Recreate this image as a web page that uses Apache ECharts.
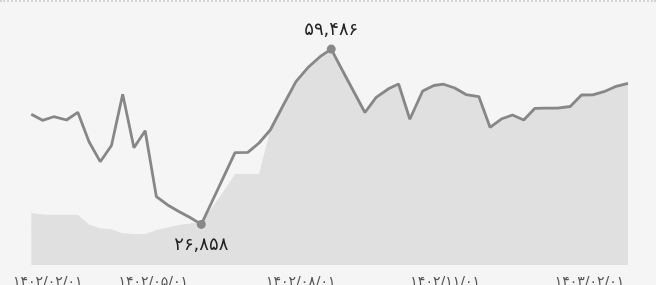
<!DOCTYPE html>
<html>
<head>
<meta charset="utf-8">
<script src="https://cdn.jsdelivr.net/npm/echarts@6/dist/echarts.min.js"></script>
<style>
  body { margin: 0; background: #f5f5f5; }
  #wrap { position: relative; width: 656px; height: 285px; overflow: hidden; }
  #dots { position: absolute; left: 0; top: 0; width: 656px; border-top: 2px dotted #d4d4d4; }
  #chart { width: 656px; height: 285px; }
</style>
</head>
<body>
<div id="wrap">
  <div id="chart"></div>
  <div id="dots"></div>
</div>
<script>
// تاریخ هر نقطه (شمسی)
var dates = [
  '1402/02/18', '1402/02/25', '1402/03/01', '1402/03/09', '1402/03/16', '1402/03/23', '1402/03/30',
  '1402/04/06', '1402/04/13', '1402/04/20', '1402/04/27', '1402/05/03', '1402/05/10', '1402/05/17',
  '1402/05/24', '1402/05/31', '1402/06/07', '1402/06/14', '1402/06/21', '1402/06/29', '1402/07/05',
  '1402/07/12', '1402/07/20', '1402/07/28', '1402/08/06', '1402/08/13', '1402/08/20', '1402/08/27',
  '1402/09/04', '1402/09/11', '1402/09/18', '1402/09/26', '1402/10/02', '1402/10/09', '1402/10/17',
  '1402/10/24', '1402/10/30', '1402/11/07', '1402/11/14', '1402/11/22', '1402/11/29', '1402/12/06',
  '1402/12/13', '1402/12/20', '1402/12/27', '1403/01/05', '1403/01/12', '1403/01/20', '1403/01/27',
  '1403/02/03', '1403/02/10', '1403/02/17', '1403/02/25'
];

// قیمت
var prices = [
  47350, 46230, 46900, 46290, 47720, 42250, 38530,
  41540, 51070, 41130, 44300, 32010, 30470, 29260,
  28140, 26858, 31300, 35750, 40200, 40250, 42010,
  44430, 48990, 53420, 56210, 58070, 59486, 55500,
  51590, 47680, 50510, 52150, 52990, 46420, 51690,
  52710, 52950, 52240, 51030, 50660, 44930, 46470,
  47220, 46290, 48470, 48480, 48490, 48800, 50940,
  50950, 51560, 52490, 53120
];

// سری زیرین (ناحیه خاکستری)
var baseValues = [
  29030, 28700, 28660, 28660, 28660, 26840, 26130,
  25940, 25200, 25070, 25080, 25810, 26280, 26750,
  27020, 27360, 30100, 33070, 36240, 36250, 36260,
  44430, 48990, 53420, 56210, 58070, 59486, 55500,
  51590, 47680, 50510, 52150, 52990, 46420, 51690,
  52710, 52950, 52240, 51030, 50660, 44930, 46470,
  47220, 46290, 48470, 48480, 48490, 48800, 50940,
  50950, 51560, 52490, 53120
];

var xLabels = ['1402/02/01', '1402/05/01', '1402/08/01', '1402/11/01', '1403/02/01'];

var monthStart = [0, 31, 62, 93, 124, 155, 186, 216, 246, 276, 306, 336];

// روز از ابتدای ۱۴۰۲
function jDay(s) {
  var p = s.split('/');
  var y = Number(p[0]), m = Number(p[1]), d = Number(p[2]);
  return (y - 1402) * 365 + monthStart[m - 1] + d - 1;
}

function toFa(s) {
  return String(s).replace(/\d/g, function (c) {
    return String.fromCharCode(0x06F0 + Number(c));
  });
}

function faNum(v) {
  return toFa(Math.round(v).toString().replace(/\B(?=(\d{3})+(?!\d))/g, ','));
}

var labelDays = xLabels.map(jDay);
var lineData = [], areaData = [];
for (var i = 0; i < dates.length; i++) {
  lineData.push([jDay(dates[i]), prices[i]]);
  areaData.push([jDay(dates[i]), baseValues[i]]);
}

var chart = echarts.init(document.getElementById('chart'));
chart.setOption({
  animation: false,
  backgroundColor: 'transparent',
  textStyle: { fontFamily: 'DejaVu Sans' },
  grid: { left: 4, right: 28, top: 20, bottom: 20, outerBoundsMode: 'none' },
  xAxis: {
    type: 'value',
    min: labelDays[0],
    max: jDay(dates[dates.length - 1]),
    axisLine: { show: false },
    axisTick: { show: false },
    splitLine: { show: false },
    axisLabel: {
      customValues: labelDays,
      alignMinLabel: 'left',
      margin: 10,
      fontSize: 14,
      color: '#555',
      formatter: function (v) {
        var idx = labelDays.indexOf(v);
        if (idx < 0) return '';
        if (idx === 0) return '{f|' + toFa(xLabels[idx]) + '}';
        return toFa(xLabels[idx]);
      },
      rich: {
        f: { fontSize: 14, color: '#555', padding: [0, 0, 0, 9] }
      }
    }
  },
  yAxis: {
    type: 'value',
    min: 19300,
    max: 64900,
    show: false
  },
  series: [
    {
      type: 'line',
      data: areaData,
      symbol: 'none',
      silent: true,
      lineStyle: { width: 0 },
      areaStyle: { color: '#e0e0e0', opacity: 1, origin: 'start' },
      z: 1
    },
    {
      type: 'line',
      data: lineData,
      symbol: 'none',
      lineStyle: { color: '#878787', width: 2.8 },
      z: 2,
      markPoint: {
        symbol: 'circle',
        symbolSize: 9,
        itemStyle: { color: '#888' },
        label: {
          fontSize: 18,
          color: '#222',
          fontFamily: 'DejaVu Sans',
          formatter: function (p) { return faNum(p.value); }
        },
        data: [
          { type: 'max', label: { position: 'top', distance: 5 } },
          { type: 'min', label: { position: 'bottom', distance: 7 } }
        ]
      }
    }
  ]
});
</script>
</body>
</html>
